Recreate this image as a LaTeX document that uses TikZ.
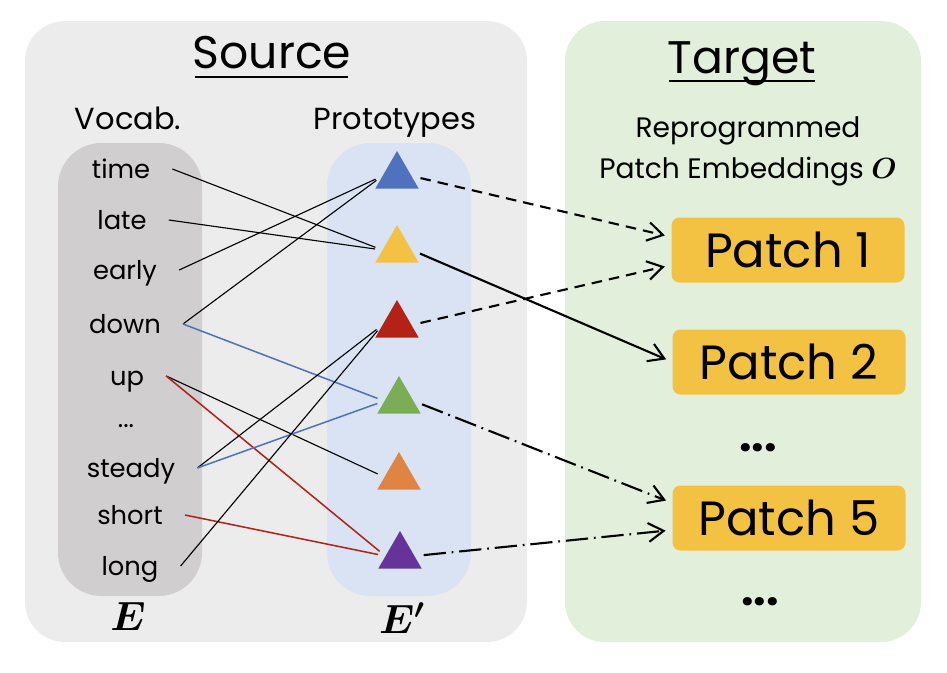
\documentclass[tikz,border=0pt]{standalone}
\usepackage{graphicx}
\usepackage{fontspec}
\setmainfont{Poppins}
\usepackage{amsmath,bm}
\usetikzlibrary{shapes.geometric,arrows.meta}

\definecolor{srcbg}{HTML}{ECECEC}
\definecolor{tgtbg}{HTML}{E2EFDA}
\definecolor{vocbg}{HTML}{D0CECE}
\definecolor{probg}{HTML}{DAE3F3}
\definecolor{patchc}{HTML}{F4C242}
\definecolor{triblue}{HTML}{4F71BE}
\definecolor{triyellow}{HTML}{F4C242}
\definecolor{trired}{HTML}{B22217}
\definecolor{trigreen}{HTML}{7BAC56}
\definecolor{triorange}{HTML}{DF8442}
\definecolor{tripurple}{HTML}{66339A}

\begin{document}
\begin{tikzpicture}[x=0.03cm,y=-0.03cm]
        \tikzstyle{titulo}=[anchor=base, inner sep=0pt, font=\fontsize{39}{44}\selectfont]
        \tikzstyle{cabeca}=[anchor=base, inner sep=0pt, font=\fontsize{26}{30}\selectfont]
        \tikzstyle{palavra}=[anchor=base, inner ysep=0pt, inner xsep=0.66cm, text height=0.54cm, text depth=0pt, font=\fontsize{22}{26}\selectfont]
        \tikzstyle{tri}=[regular polygon, regular polygon sides=3, minimum size=1.5cm, inner sep=0pt]
        \tikzstyle{patch}=[fill=patchc, rounded corners=0.24cm, minimum width=6.99cm, minimum height=1.95cm, font=\fontsize{41}{44}\selectfont]
        \tikzstyle{rotulo}=[anchor=base, inner sep=0pt, font=\fontsize{24}{28}\selectfont]
        \tikzstyle{liga}=[line width=0.95pt, shorten >=0.22cm]
        \tikzstyle{seta}=[line width=1.8pt, -{Straight Barb[length=13pt, width=16pt, line width=1.8pt]}, shorten <=0.27cm, shorten >=0.2cm]
        \tikzstyle{tracos}=[dash pattern=on 9pt off 6pt]
        \tikzstyle{traco ponto}=[dash pattern=on 19pt off 5pt on 1.5pt off 5pt]

        \useasboundingbox (0,0) rectangle (947,673);

        % panels
        \fill[srcbg, rounded corners=1.2cm] (25,21) rectangle (527,642);
        \fill[tgtbg, rounded corners=1.2cm] (565,21) rectangle (921,642);
        \fill[vocbg, rounded corners=1.3cm] (58,143) rectangle (202,596);
        \fill[probg, rounded corners=1.3cm] (327,143) rectangle (471,596);

        % titles
        \node[titulo] (source) at (272,68) {Source};
        \draw[line width=2.3pt] (195,77) -- (348,77);
        \node[titulo] (target) at (742,73) {Target};
        \draw[line width=2.3pt] (669,81) -- (815,81);

        \node[cabeca] (vocab) at (128,129) {Vocab.};
        \node[cabeca] (proto) at (395,129) {Prototypes};
        \node[anchor=base, inner sep=0pt, font=\fontsize{24}{28}\selectfont] (repro) at (748,137) {Reprogrammed};
        \node[anchor=base, inner sep=0pt, font=\fontsize{24}{28}\selectfont] (pemb) at (748,178) {Patch Embeddings $\bm{O}$};

        % vocabulary
        \node[palavra] (time) at (121,178) {time};
        \node[palavra] (late) at (122,229) {late};
        \node[palavra] (early) at (125,279) {early};
        \node[palavra] (down) at (125,333) {down};
        \node[palavra] (up) at (127,385) {up};
        \node[palavra] (vdots) at (126,427) {...};
        \node[palavra] (steady) at (131,477) {steady};
        \node[palavra] (short) at (130,524) {short};
        \node[palavra] (long) at (130,575) {long};

        \node[rotulo] (E) at (128,630) {\scalebox{1.4}{$\bm{E}$}};
        \node[rotulo] (Eprime) at (402,633) {\scalebox{1.4}{$\bm{E'}$}};

        % prototypes
        \node[tri, fill=triblue] (tblue) at (397,176) {};
        \node[tri, fill=triyellow] (tyellow) at (397,250) {};
        \node[tri, fill=trired] (tred) at (397,325) {};
        \node[tri, fill=trigreen] (tgreen) at (399,401) {};
        \node[tri, fill=triorange] (torange) at (399,477) {};
        \node[tri, fill=tripurple] (tpurple) at (400,556) {};

        % patches
        \node[patch] (p1) at (788,250) {Patch 1};
        \node[patch] (p2) at (789,362) {Patch 2};
        \node[anchor=base, font=\bfseries\fontsize{38}{40}\selectfont] (pdots1) at (758,451) {...};
        \node[patch] (p5) at (789,518) {Patch 5};
        \node[anchor=base, font=\bfseries\fontsize{38}{40}\selectfont] (pdots2) at (760,605) {...};

        % vocab -> prototypes
        \draw[liga] (time.east) -- (tyellow.west);
        \draw[liga] (late.east) -- (tyellow.west);
        \draw[liga] (early.east) -- (tblue.west);
        \draw[liga] (down.east) -- (tblue.west);
        \draw[liga, triblue, line width=1.3pt] (down.east) -- (tgreen.west);
        \draw[liga] (up.east) -- (torange.west);
        \draw[liga, trired, line width=1.3pt] (up.east) -- (tpurple.west);
        \draw[liga] (steady.east) -- (tred.west);
        \draw[liga, triblue, line width=1.3pt] (steady.east) -- (tgreen.west);
        \draw[liga, trired, line width=1.3pt] (short.east) -- (tpurple.west);
        \draw[liga] (long.east) -- (tred.west);

        % prototypes -> patches
        \draw[seta, tracos] (tblue.east) -- ([yshift=0.39cm]p1.west);
        \draw[seta, tracos] (tred.east) -- ([yshift=-0.45cm]p1.west);
        \draw[seta] (tyellow.east) -- (p2.west);
        \draw[seta, traco ponto] (tgreen.east) -- ([yshift=0.45cm]p5.west);
        \draw[seta, traco ponto] (tpurple.east) -- ([yshift=-0.36cm]p5.west);
      \end{tikzpicture}
\end{document}
